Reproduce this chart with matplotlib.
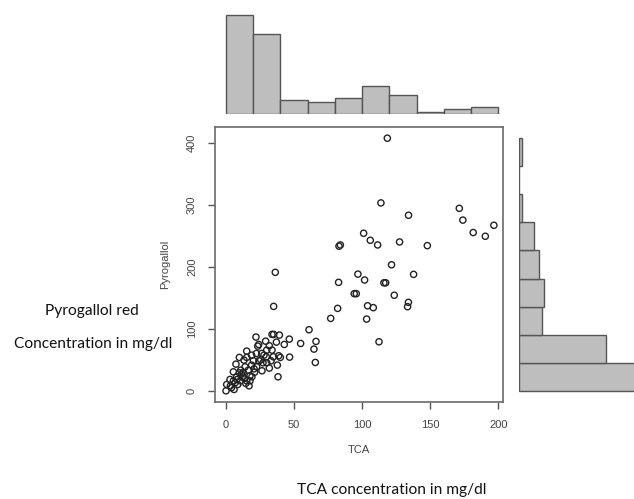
import numpy as np
import matplotlib.pyplot as plt

# TCA vs Pyrogallol red values (mg/dl)
tca = [118.5, 113.8, 134.1, 171.4, 174.0, 181.6, 190.5, 196.8, 101.1, 106.0,
       111.4, 127.5, 147.9, 83.0, 84.0, 121.6, 96.9, 137.8, 101.8, 82.7,
       116.0, 117.3, 123.6, 94.2, 95.7, 104.0, 108.2, 134.0, 133.4, 82.0,
       76.9, 103.3, 112.4, 36.2, 35.0, 61.0, 54.8, 66.1, 64.6, 65.6,
       46.5, 46.7, 42.8, 39.2, 33.8, 35.0, 37.0, 22.0, 24.0, 29.1,
       31.8, 37.7, 38.2, 38.7, 39.9, 31.8, 34.8, 29.6, 26.2, 27.2,
       26.4, 22.3, 23.3, 15.2, 15.2, 13.2, 9.8, 7.3, 10.8, 16.4,
       20.6, 18.8, 17.6, 15.2, 12.0, 7.8, 5.4, 3.2, 0.5, 0.0,
       5.9, 8.6, 10.5, 16.9, 17.6, 19.0, 12.7, 9.8, 2.9, 24.2,
       29.9, 33.1, 20.1, 22.5, 29.9, 33.8, 27.9, 18.8, 14.0, 5.4,
       6.6, 11.5, 4.0, 13.5, 21.0, 25.5, 8.0, 14.5]
pyro = [407, 302.7, 282.8, 294, 275, 255, 249, 266.7, 253.8, 242.5,
        235, 239.8, 233.9, 233, 235, 203, 188, 187.6, 178.5, 174.7,
        174, 174, 154, 156.5, 156.5, 137, 134, 142.5, 135.5, 132.8,
        116.7, 115.6, 79, 190.9, 136, 98.4, 76.3, 79.6, 67.2, 45.7,
        83.3, 54.3, 74.7, 89.8, 90.9, 90.9, 78.5, 86.6, 74.7, 80,
        72.6, 41.4, 22.6, 56.5, 53.8, 36.6, 54.8, 54.8, 60.2, 45.2,
        32.3, 60.2, 72, 64, 53.8, 49.5, 53.8, 43, 33.3, 33.3,
        35.5, 41.4, 24.2, 16.1, 22.6, 22.6, 16.1, 8.1, 10.2, 0,
        2.2, 10.2, 16.1, 8.1, 16.1, 22.6, 29.6, 29, 18.3, 48.4,
        45.2, 48.4, 48.4, 38.7, 65.6, 65.6, 57.5, 57.5, 38.7, 30.6,
        12.9, 27, 5, 20, 30, 50, 18, 12]

# marginal histograms
tca_bins = np.arange(0, 220, 20)
tca_counts = [42, 34, 6, 5, 7, 12, 8, 1, 2, 3]
pyro_bins = np.arange(0, 500, 50)
pyro_counts = [50, 35, 9, 10, 8, 6, 1, 0, 1]

W, H = 634, 499
fig = plt.figure(figsize=(W/100, H/100), dpi=100)
plt.rcParams['font.family'] = ['Liberation Sans', 'DejaVu Sans']

def box(l, t, r, b):
    return [l/W, 1 - b/H, (r - l)/W, (b - t)/H]

bar_face = '#bebebe'
bar_edge = '#555555'
tick_col = '#444444'

# main scatter
ax = fig.add_axes(box(215, 127, 503, 402))
ax.scatter(tca, pyro, s=20, facecolors='none', edgecolors='#222222', linewidths=1.0)
ax.set_xlim(-8.1, 203.5)
ax.set_ylim(-18, 425)
ax.set_xticks([0, 50, 100, 150, 200])
ax.set_yticks([0, 100, 200, 300, 400])
ax.set_yticklabels(['0', '100', '200', '300', '400'], rotation=90, va='center')
ax.tick_params(direction='out', length=5, width=1, colors='#555555',
               labelcolor=tick_col, labelsize=8, pad=8)
for s in ax.spines.values():
    s.set_color('#6a6a6a')
    s.set_linewidth(1.2)
ax.set_xlabel('TCA', fontsize=8, color=tick_col, labelpad=11)
ax.set_ylabel('Pyrogallol', fontsize=8, color=tick_col, labelpad=12)

# top histogram
axt = fig.add_axes(box(215, 0, 503, 114))
axt.bar(tca_bins[:-1], tca_counts, width=np.diff(tca_bins), align='edge',
        color=bar_face, edgecolor=bar_edge, linewidth=1)
axt.set_xlim(-8.1, 203.5)
axt.set_ylim(0, 48.5)
axt.axis('off')

# right histogram
axr = fig.add_axes(box(519.3, 127, 634, 402))
axr.barh(pyro_bins[:-1], pyro_counts, height=np.diff(pyro_bins), align='edge',
         color=bar_face, edgecolor=bar_edge, linewidth=1)
axr.set_xlim(0, 46.4)
axr.set_ylim(-20.1, 470.1)
axr.axis('off')

# annotations outside the plot
font = ['Lato', 'DejaVu Sans']
fig.text(92/W, 1 - 311/H, 'Pyrogallol red', fontsize=11.2, family=font,
         ha='center', va='center', color='#111111')
fig.text(93/W, 1 - 344/H, 'Concentration in mg/dl', fontsize=11.2, family=font,
         ha='center', va='center', color='#111111')
fig.text(392/W, 1 - 490/H, 'TCA concentration in mg/dl', fontsize=11.2, family=font,
         ha='center', va='center', color='#111111')

fig.savefig('out.png', dpi=100)
